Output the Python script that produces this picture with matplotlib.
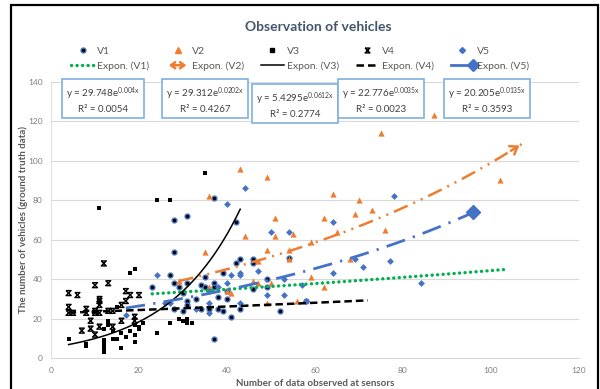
import matplotlib
matplotlib.use("Agg")
import matplotlib.pyplot as plt
import numpy as np
from matplotlib.lines import Line2D
from matplotlib.path import Path
from matplotlib.patches import FancyArrowPatch, Rectangle
from matplotlib.legend_handler import HandlerBase

plt.rcParams.update({
    "font.family": ["Lato", "DejaVu Sans"],
    "font.size": 7,
    "mathtext.fontset": "custom",
    "mathtext.rm": "Lato",
    "mathtext.it": "Lato:italic",
    "mathtext.bf": "Lato:bold",
})

BLUE = "#4472C4"
ORANGE = "#ED7D31"
GREEN = "#00B050"
BLACK = "#000000"
TICK_GRAY = "#7F7F7F"
GRID_GRAY = "#D9D9D9"

# observations per vehicle group
v1_x = [23, 27, 28, 28, 28, 28, 29, 30, 30, 31, 31, 31, 31, 33, 34, 34, 35, 35, 36, 37,
        37, 37, 37, 38, 38, 39, 39, 40, 40, 41, 42, 42, 43, 43, 46, 46, 46, 49, 49, 52,
        54, 58]
v1_y = [36, 42, 70, 54, 38, 25, 36, 33, 24, 72, 38, 29, 27, 30, 37, 25, 41, 36, 25, 81,
        38, 36, 10, 31, 25, 43, 24, 30, 34, 21, 48, 69, 50, 25, 50, 48, 35, 40, 36, 24,
        51, 29]

v2_x = [29, 35, 36, 36, 40, 41, 43, 44, 46, 47, 47, 49, 49, 49, 50, 51, 51, 54, 54, 55,
        56, 59, 59, 62, 62, 64, 65, 68, 69, 70, 73, 75, 76, 87, 102]
v2_y = [39, 54, 82, 36, 34, 33, 96, 62, 39, 49, 38, 92, 55, 28, 38, 71, 62, 55, 50, 63,
        29, 59, 41, 71, 36, 83, 64, 50, 73, 80, 75, 114, 65, 123, 90]

v3_x = [4, 8, 8, 11, 12, 12, 12, 12, 12, 13, 13, 14, 14, 15, 15, 16, 16, 17, 18, 18,
        19, 19, 19, 19, 20, 20, 21, 24, 24, 27, 27, 29, 30, 31, 31, 32, 35]
v3_y = [10, 7, 6, 76, 15, 9, 7, 5, 3, 17, 19, 10, 14, 10, 26, 13, 5, 11, 43, 14,
        45, 17, 12, 8, 16, 15, 18, 80, 13, 80, 18, 20, 19, 20, 18, 18, 94]

v4_x = [4, 4, 4, 5, 6, 7, 8, 8, 9, 9, 10, 10, 10, 10, 11, 11, 11, 11, 11, 12,
        13, 13, 14, 14, 16, 16, 17, 17, 18, 19, 19, 20]
v4_y = [33, 26, 23, 23, 32, 14, 25, 23, 19, 15, 37, 24, 23, 12, 30, 29, 27, 23, 16, 48,
        38, 24, 24, 16, 27, 19, 34, 29, 32, 21, 19, 32]

v5_x = [17, 24, 26, 27, 33, 36, 36, 36, 38, 40, 40, 41, 43, 43, 43, 44, 47, 49, 50, 53,
        53, 54, 57, 58, 64, 64, 69, 71, 77, 78, 84]
v5_y = [22, 42, 28, 28, 25, 34, 28, 23, 36, 78, 38, 42, 43, 42, 28, 86, 44, 32, 64, 32,
        40, 64, 37, 29, 69, 43, 50, 46, 49, 82, 38]

# exponential trendlines y = a * exp(b x), drawn over [start, end]
trend_a = [29.748, 26.7, 5.4295, 22.776, 20.205]
trend_b = [0.004, 0.0131, 0.0612, 0.0035, 0.0135]
trend_start = [23, 29, 4, 4, 17]
trend_end = [103, 107, 43, 72, 96]
eq_labels = [
    ("29.748", "0.004x", "0.0054"),
    ("29.312", "0.0202x", "0.4267"),
    ("5.4295", "0.0612x", "0.2774"),
    ("22.776", "0.0035x", "0.0023"),
    ("20.205", "0.0135x", "0.3593"),
]

# hourglass marker used for V4
hourglass = Path([(-1, 1), (1, 1), (-1, -1), (1, -1), (-1, 1)])

fig = plt.figure(figsize=(6.0, 3.89), dpi=100)
ax = fig.add_axes([0.085, 0.079, 0.88, 0.711])

ax.yaxis.grid(True, color=GRID_GRAY, linewidth=0.8, zorder=0)
ax.set_axisbelow(True)

ax.scatter(v1_x, v1_y, marker="o", s=12, color=BLACK, edgecolors=BLUE, linewidths=1.0, zorder=3)
ax.scatter(v2_x, v2_y, marker="^", s=20, color=ORANGE, linewidths=0, zorder=3)
ax.scatter(v3_x, v3_y, marker="s", s=12, color=BLACK, linewidths=0, zorder=3)
ax.scatter(v4_x, v4_y, marker=hourglass, s=13, facecolors="none", edgecolors=BLACK,
           linewidths=1.0, zorder=3)
ax.scatter(v5_x, v5_y, marker="D", s=12, color=BLUE, linewidths=0, zorder=3)

styles = [
    dict(color=GREEN, linewidth=2.4, linestyle=(0, (0.05, 1.6)), dash_capstyle="round"),
    dict(color=ORANGE, linewidth=1.8, linestyle=(0, (6, 2.5, 0.8, 2.5, 0.8, 2.5))),
    dict(color=BLACK, linewidth=1.1, linestyle="-"),
    dict(color=BLACK, linewidth=1.8, linestyle=(0, (3, 1.6))),
    dict(color=BLUE, linewidth=2.0, linestyle=(0, (7, 3, 0.8, 3))),
]
for a, b, x0, x1, st in zip(trend_a, trend_b, trend_start, trend_end, styles):
    xs = np.linspace(x0, x1, 200)
    ax.plot(xs, a * np.exp(b * xs), zorder=4, **st)

# open arrow at the end of the V2 trendline
xe = trend_end[1]
ye = trend_a[1] * np.exp(trend_b[1] * xe)
xb = xe - 3
yb = trend_a[1] * np.exp(trend_b[1] * xb)
ax.add_patch(FancyArrowPatch((xb, yb), (xe, ye), arrowstyle="->,head_length=5,head_width=3.5",
                             color=ORANGE, linewidth=1.8, zorder=5))
# diamond at the end of the V5 trendline
xe5 = trend_end[4]
ax.plot([xe5], [trend_a[4] * np.exp(trend_b[4] * xe5)], marker="D", markersize=7,
        color=BLUE, zorder=5)

ax.set_xlim(0, 120)
ax.set_ylim(0, 140)
ax.set_xticks(range(0, 121, 20))
ax.set_yticks(range(0, 141, 20))
ax.tick_params(axis="both", labelsize=6, colors=TICK_GRAY, length=0, pad=6)
for side in ("top", "right"):
    ax.spines[side].set_visible(False)
ax.spines["bottom"].set_color(GRID_GRAY)
ax.spines["left"].set_color(GRID_GRAY)
ax.spines["bottom"].set_linewidth(0.8)
ax.spines["left"].set_linewidth(0.6)

ax.set_xlabel("Number of data observed at sensors", fontsize=7, fontweight="bold",
              color="#595959", labelpad=4)
ax.set_ylabel("The number of vehicles (ground truth data)", fontsize=7, fontweight="bold",
              color="#595959", labelpad=0)

fig.text(0.53, 0.93, "Observation of vehicles", ha="center", va="center",
         fontsize=10, fontweight="bold", color="#44546A")

# equation boxes
eq_pos = [(103, 100), (205, 100), (295, 105), (381, 100), (487, 100)]
for (a_txt, b_txt, r2), (px, py) in zip(eq_labels, eq_pos):
    fig.text(px / 600, 1 - py / 389,
             "y = " + a_txt + "e$^{\\mathrm{" + b_txt + "}}$\nR² = " + r2,
             ha="center", va="center", fontsize=7, color="#404040", linespacing=1.4,
             bbox=dict(boxstyle="square,pad=0.38", facecolor="white",
                       edgecolor="#7FB0E0", linewidth=1.2))


class ArrowHandler(HandlerBase):
    def create_artists(self, legend, orig_handle, xdescent, ydescent, width, height,
                       fontsize, trans):
        arr = FancyArrowPatch((0, height / 2), (width, height / 2),
                              arrowstyle="<->,head_length=3,head_width=2.2",
                              color=ORANGE, linewidth=1.8, transform=trans)
        return [arr]


class DiamondEndHandler(HandlerBase):
    def create_artists(self, legend, orig_handle, xdescent, ydescent, width, height,
                       fontsize, trans):
        ln = Line2D([0, width], [height / 2, height / 2], color=BLUE, linewidth=2.0,
                    transform=trans)
        mk = Line2D([width], [height / 2], marker="D", markersize=6, color=BLUE,
                    linestyle="none", transform=trans)
        return [ln, mk]


arrow_proxy = Line2D([], [], color=ORANGE)
diamond_proxy = Line2D([], [], color=BLUE)
handles = [
    Line2D([], [], marker="o", markersize=3.5, color=BLACK, markeredgecolor=BLUE,
           linestyle="none"),
    Line2D([], [], color=GREEN, linewidth=2.4, linestyle=(0, (0.05, 1.6)),
           dash_capstyle="round"),
    Line2D([], [], marker="^", markersize=4, color=ORANGE, linestyle="none"),
    arrow_proxy,
    Line2D([], [], marker="s", markersize=3, color=BLACK, linestyle="none"),
    Line2D([], [], color=BLACK, linewidth=1.1),
    Line2D([], [], marker=hourglass, markersize=3.5, markerfacecolor="none",
           markeredgecolor=BLACK, linestyle="none"),
    Line2D([], [], color=BLACK, linewidth=1.8, linestyle=(0, (3, 1.6))),
    Line2D([], [], marker="D", markersize=3, color=BLUE, linestyle="none"),
    diamond_proxy,
]
labels = ["V1", "Expon. (V1)", "V2", "Expon. (V2)", "V3", "Expon. (V3)",
          "V4", "Expon. (V4)", "V5", "Expon. (V5)"]
fig.legend(handles, labels, ncol=5, loc="upper center", bbox_to_anchor=(0.5, 0.905),
           frameon=False, fontsize=7.5, labelcolor="#595959", handlelength=2.2,
           handletextpad=0.3, columnspacing=1.6, labelspacing=0.55,
           handler_map={arrow_proxy: ArrowHandler(), diamond_proxy: DiamondEndHandler()})

# outer frame
fig.patches.append(Rectangle((11 / 600, -0.02), 587 / 600, 1 - 5 / 389 + 0.02,
                             transform=fig.transFigure, fill=False, edgecolor=BLACK,
                             linewidth=1.6))

fig.savefig("out.png", dpi=100)
